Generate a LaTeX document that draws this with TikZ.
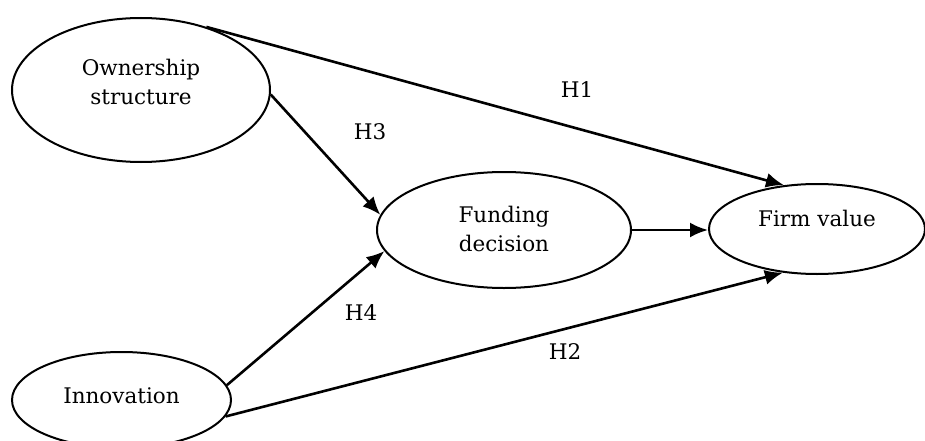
\documentclass[tikz,border=0pt]{standalone}
\usepackage{fontspec}
\setmainfont{DejaVu Serif}
\usetikzlibrary{shapes.geometric,arrows.meta}
\begin{document}
\begin{tikzpicture}[x=1pt,y=-1pt,
  ell/.style={draw, ellipse, line width=2pt, inner sep=0pt},
  txt/.style={align=center, font=\fontsize{21.5}{29}\selectfont},
  conn/.style={line width=2.6pt, -{Latex[length=18pt,width=15pt]}}]
\useasboundingbox (0,0) rectangle (925,441);
\clip (0,0) rectangle (925,441);
% ellipses
\node[ell, minimum width=258pt, minimum height=144pt] (own) at (141,90) {};
\node[ell, minimum width=254pt, minimum height=116pt] (fund) at (504,230) {};
\node[ell, minimum width=216pt, minimum height=90pt] (firm) at (817,229) {};
\node[ell, minimum width=219pt, minimum height=96pt] (innov) at (121.5,400) {};
% texts
\node[txt] (ownt) at (141,82) {Ownership\\structure};
\node[txt] (fundt) at (504,229) {Funding\\decision};
\node[txt] (firmt) at (817,218) {Firm value};
\node[txt] (innovt) at (121.5,396) {Innovation};
% labels
\node[txt] (h1) at (577,90) {H1};
\node[txt] (h3) at (370,132) {H3};
\node[txt] (h4) at (361,313) {H4};
\node[txt] (h2) at (565,352) {H2};
% connectors
\draw[conn] (own.44.5) -- (firm.127.7);
\draw[conn] (own.-2) -- (fund.173);
\draw[conn] (fund.east) -- (fund.east -| firm.west);
\draw[conn] (innov.8.9) -- (fund.190.5);
\draw[conn] (innov.-9.4) -- (firm.232.7);
\end{tikzpicture}
\end{document}
